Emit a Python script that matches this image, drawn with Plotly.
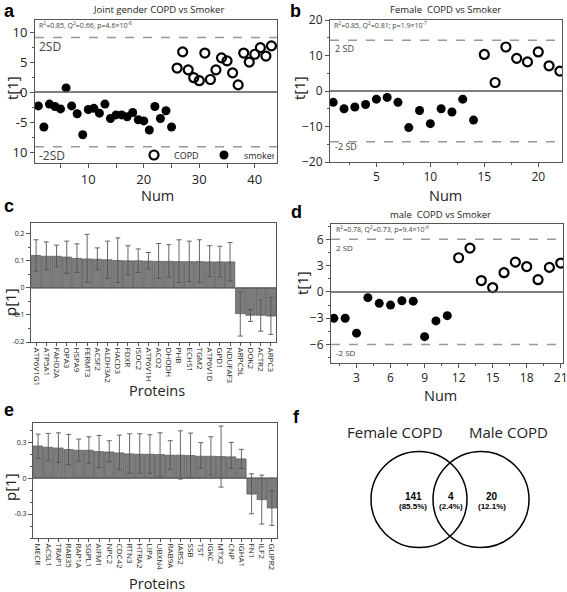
import plotly.graph_objects as go

W, H = 567, 592
def px(x): return x / W
def py(y): return 1 - y / H

FONT = "Open Sans"
AX = "#555555"

# ---------------- data ----------------
# Panel a: joint gender
a_smoker_num = list(range(1, 26))
a_smoker_t = [-2.3, -5.8, -2.0, -2.4, -2.8, 0.7, -2.3, -3.6, -7.1, -2.9, -2.7, -3.5, -2.0,
              -4.4, -3.8, -3.8, -4.1, -3.4, -4.6, -4.8, -6.3, -2.4, -4.4, -3.1, -5.8]
a_copd_num = list(range(26, 44))
a_copd_t = [4.0, 6.7, 3.7, 2.4, 1.9, 6.5, 2.1, 3.7, 5.7, 5.2, 3.2, 1.2, 6.5, 5.0, 6.3, 7.4, 6.0, 7.7]
a_sd = 9.1

# Panel b: female
b_smoker_num = list(range(1, 15))
b_smoker_t = [-3.2, -5.0, -4.5, -3.8, -2.3, -1.8, -3.2, -10.3, -5.5, -9.2, -5.0, -5.9, -2.3, -8.2]
b_copd_num = list(range(15, 23))
b_copd_t = [10.3, 2.4, 12.4, 9.2, 8.2, 11.0, 7.1, 5.6]
b_sd = 14.3

# Panel d: male
d_smoker_num = list(range(1, 12))
d_smoker_t = [-3.0, -3.0, -4.7, -0.65, -1.3, -1.5, -1.0, -1.05, -5.1, -3.3, -2.7]
d_copd_num = list(range(12, 22))
d_copd_t = [3.9, 5.0, 1.3, 0.5, 2.2, 3.4, 2.9, 1.4, 2.8, 3.3]
d_sd = 6.0

# Panel c: proteins (female)
c_proteins = ["ATP6V1G1", "ATP5A1", "FAHD2A", "OPA3", "HSPA9", "FERMT3", "ACSF2", "ALDH3A2",
              "HACD3", "FDXR", "ISOC2", "ATP6V1H", "ACO2", "DHODH", "PHB", "ECHS1", "TGM2",
              "ATP6V1D", "GPD1", "NDUFAF3", "ARPC5L", "DOK2", "ACTR2", "ARPC3"]
c_p = [0.120, 0.117, 0.117, 0.114, 0.109, 0.107, 0.106, 0.104, 0.101, 0.100, 0.100, 0.099,
       0.098, 0.098, 0.097, 0.097, 0.097, 0.096, 0.096, 0.096, -0.095, -0.101, -0.101, -0.104]
c_hi = [0.178, 0.170, 0.158, 0.173, 0.163, 0.198, 0.148, 0.173, 0.185, 0.156, 0.144, 0.131,
        0.164, 0.160, 0.178, 0.173, 0.178, 0.156, 0.154, 0.168, -0.015, -0.080, -0.045, -0.035]
c_lo = [0.062, 0.067, 0.078, 0.054, 0.057, 0.021, 0.067, 0.036, 0.020, 0.048, 0.057, 0.069,
        0.035, 0.040, 0.020, 0.023, 0.021, 0.042, 0.041, 0.026, -0.178, -0.124, -0.160, -0.172]

# Panel e: proteins (male)
e_proteins = ["MECR", "ACSL1", "TRAP1", "RAB35", "RAP1A", "SGPL1", "AIFM1", "NPC2", "CDC42",
              "RTN3", "HTRA2", "LIPA", "UBXN4", "RAB9A", "IARS2", "SSB", "TST", "IGKC", "MTX2",
              "CNP", "IGHA1", "FN1", "ILF2", "GLIPR2"]
e_p = [0.268, 0.257, 0.251, 0.238, 0.232, 0.232, 0.221, 0.218, 0.210, 0.202, 0.199, 0.199,
       0.196, 0.191, 0.191, 0.188, 0.182, 0.182, 0.180, 0.177, 0.160, -0.133, -0.180, -0.249]
e_hi = [0.367, 0.373, 0.378, 0.365, 0.326, 0.345, 0.356, 0.312, 0.359, 0.370, 0.370, 0.362,
        0.378, 0.312, 0.395, 0.376, 0.296, 0.345, 0.434, 0.298, 0.240, 0.036, 0.025, -0.105]
e_lo = [0.166, 0.146, 0.130, 0.113, 0.141, 0.124, 0.088, 0.135, 0.069, 0.041, 0.041, 0.039,
        0.017, 0.075, -0.008, 0.003, 0.080, 0.025, -0.075, 0.080, 0.080, -0.298, -0.384, -0.395]

# Panel f: Venn
venn_labels = ["Female COPD", "Male COPD"]
venn_counts = ["141", "4", "20"]
venn_pcts = ["(85.5%)", "(2.4%)", "(12.1%)"]

# ---------------- figure ----------------
fig = go.Figure()

def scatter_pair(xa, ya, sx, sy, cx, cy, legend):
    fig.add_trace(go.Scatter(x=cx, y=cy, mode="markers", name="COPD", xaxis=xa, yaxis=ya,
                             marker=dict(symbol="circle-open", size=9, color="black",
                                         line=dict(width=2.2, color="black")),
                             showlegend=legend))
    fig.add_trace(go.Scatter(x=sx, y=sy, mode="markers", name="smoker", xaxis=xa, yaxis=ya,
                             marker=dict(symbol="circle", size=9, color="black"),
                             showlegend=legend))

scatter_pair("x", "y", a_smoker_num, a_smoker_t, a_copd_num, a_copd_t, True)
scatter_pair("x2", "y2", b_smoker_num, b_smoker_t, b_copd_num, b_copd_t, False)
scatter_pair("x4", "y4", d_smoker_num, d_smoker_t, d_copd_num, d_copd_t, False)

def bars(xa, ya, cats, vals, hi, lo):
    fig.add_trace(go.Bar(x=cats, y=vals, xaxis=xa, yaxis=ya, showlegend=False,
                         marker=dict(color="#7d7d7d", line=dict(color="#5a5a5a", width=0.8)),
                         error_y=dict(type="data", symmetric=False,
                                      array=[h - v for h, v in zip(hi, vals)],
                                      arrayminus=[v - l for v, l in zip(vals, lo)],
                                      color="#555555", thickness=0.9, width=2.5)))

bars("x3", "y3", c_proteins, c_p, c_hi, c_lo)
bars("x5", "y5", e_proteins, e_p, e_hi, e_lo)

def axis(dom, rng=None, **kw):
    d = dict(domain=dom, showline=True, mirror=True, linecolor=AX, linewidth=1,
             ticks="outside", ticklen=4, tickcolor=AX, showgrid=False, zeroline=False,
             automargin=False, ticklabeloverflow="allow",
             tickfont=dict(family=FONT, size=13, color="#222"))
    if rng is not None:
        d["range"] = rng
    d.update(kw)
    return d

fig.update_layout(
    width=W, height=H, margin=dict(l=0, r=0, t=0, b=0, autoexpand=False),
    paper_bgcolor="white", plot_bgcolor="white",
    font=dict(family=FONT, color="#222"),
    bargap=0.08,
    xaxis=axis([px(35), px(277)], [0.4, 44], anchor="y", tickvals=[10, 20, 30, 40],
               minor=dict(dtick=5, tick0=0, ticks="outside", ticklen=4, tickcolor=AX)),
    yaxis=axis([py(163), py(20)], [-11.8, 12], anchor="x", tickvals=[10, 5, 0, -5, -10],
               ticktext=["10", "5", "0", "-5", "10"],
               minor=dict(dtick=2.5, tick0=0, ticks="outside", ticklen=2, tickcolor=AX)),
    xaxis2=axis([px(330), px(562)], [0.7, 22.2], anchor="y2", tickvals=[5, 10, 15, 20],
                tickfont=dict(family=FONT, size=12, color="#222"),
                minor=dict(dtick=2.5, tick0=0, ticks="outside", ticklen=2, tickcolor=AX)),
    yaxis2=axis([py(162), py(20)], [-20, 20], anchor="x2", tickvals=[20, 10, 0, -10, -20],
                tickfont=dict(family=FONT, size=12, color="#222"),
                minor=dict(dtick=5, tick0=0, ticks="outside", ticklen=2, tickcolor=AX)),
    xaxis3=axis([px(31), px(276)], None, anchor="y3", tickangle=90, ticklen=3,
                tickfont=dict(family=FONT, size=8, color="#222")),
    yaxis3=axis([py(342), py(223)], [-0.2, 0.24], anchor="x3", tickvals=[0.2, 0.1, 0, -0.1, -0.2],
                ticktext=["0.2", "0.1", "0", "-0.1", "-0.2"],
                tickfont=dict(family=FONT, size=7, color="#222"),
                minor=dict(dtick=0.05, tick0=0, ticks="outside", ticklen=2, tickcolor=AX)),
    xaxis4=axis([px(331), px(563)], [0.75, 21.2], anchor="y4", tickvals=[3, 6, 9, 12, 15, 18, 21],
                tickfont=dict(family=FONT, size=12, color="#222"),
                minor=dict(dtick=1.5, tick0=0, ticks="outside", ticklen=2, tickcolor=AX)),
    yaxis4=axis([py(363), py(224)], [-8.1, 7.75], anchor="x4", tickvals=[6, 3, 0, -3, -6],
                tickfont=dict(family=FONT, size=12, color="#222"),
                minor=dict(dtick=1.5, tick0=0, ticks="outside", ticklen=2, tickcolor=AX)),
    xaxis5=axis([px(33), px(277)], None, anchor="y5", tickangle=90, ticklen=3,
                tickfont=dict(family=FONT, size=8, color="#222")),
    yaxis5=axis([py(538), py(423)], [-0.5, 0.46], anchor="x5", tickvals=[0.3, 0, -0.3],
                ticktext=["0.3", "0", "-0.3"],
                tickfont=dict(family=FONT, size=7, color="#222"),
                minor=dict(dtick=0.1, tick0=0, ticks="outside", ticklen=2, tickcolor=AX)),
    legend=dict(x=px(134), y=py(155), xanchor="left", yanchor="middle", orientation="h",
                font=dict(family=FONT, size=9, color="#222"), bgcolor="rgba(0,0,0,0)",
                itemwidth=30, tracegroupgap=0, entrywidth=25, entrywidthmode="pixels"),
)

shapes = []
# zero lines and 2SD lines
for xr, yr, sd in [("x", "y", a_sd), ("x2", "y2", b_sd), ("x4", "y4", d_sd)]:
    xd = xr + " domain"
    shapes.append(dict(type="line", xref=xd, yref=yr, x0=0, x1=1, y0=0, y1=0,
                       line=dict(color=AX, width=1.5)))
    for s in (sd, -sd):
        shapes.append(dict(type="line", xref=xd, yref=yr, x0=0, x1=1, y0=s, y1=s,
                           line=dict(color="#999", width=1.5, dash="dash")))
for xr, yr in [("x3", "y3"), ("x5", "y5")]:
    shapes.append(dict(type="line", xref=xr + " domain", yref=yr, x0=0, x1=1, y0=0, y1=0,
                       line=dict(color=AX, width=1)))
# Venn circles
for cx in (419, 481):
    shapes.append(dict(type="circle", xref="paper", yref="paper",
                       x0=px(cx - 48), x1=px(cx + 48), y0=py(499.5 + 48), y1=py(499.5 - 48),
                       line=dict(color="black", width=1.5)))
fig.update_layout(shapes=shapes)

ann = []
def A(text, x, y, size, family=FONT, color="#222", xanchor="center", **kw):
    d = dict(text=text, x=px(x), y=py(y), xref="paper", yref="paper", showarrow=False,
             xanchor=xanchor, yanchor="middle",
             font=dict(family=family, size=size, color=color))
    d.update(kw)
    ann.append(d)

# panel letters
for t, x, y in [("a", 9, 11), ("b", 295, 11), ("c", 9, 206), ("d", 296, 212), ("e", 9, 410), ("f", 296, 417)]:
    A("<b>%s</b>" % t, x, y, 18, family="Liberation Sans", color="black")
# titles
A("Joint gender COPD vs Smoker", 158, 10, 9.5)
A("Female  COPD vs Smoker", 445, 10, 9.5)
A("male  COPD vs Smoker", 440, 214, 9.5)
# stats
A("R<sup>2</sup>=0.85, Q<sup>2</sup>=0.66, p=4.6×10<sup>-8</sup>", 37, 25, 7, xanchor="left", color="#444")
A("R<sup>2</sup>=0.85, Q<sup>2</sup>=0.81; p=1.9×10<sup>-7</sup>", 332, 25, 7, xanchor="left", color="#444")
A("R<sup>2</sup>=0.78, Q<sup>2</sup>=0.73, p=9.4×10<sup>-6</sup>", 334, 229, 7, xanchor="left", color="#444")
# SD labels
A("2SD", 37, 46, 12, xanchor="left", color="#444")
A("-2SD", 37, 155, 12, xanchor="left", color="#444")
A("2 SD", 333, 48, 9, xanchor="left", color="#444")
A("-2 SD", 333, 147, 9, xanchor="left", color="#444")
A("2 SD", 334, 247, 8, xanchor="left", color="#444")
A("-2 SD", 334, 352, 8, xanchor="left", color="#444")
# axis titles
A("Num", 157, 195, 14.5)
A("Num", 445, 195, 14.5)
A("Num", 440, 395, 14.5)
A("Proteins", 157, 390, 14.5)
A("Proteins", 157, 583, 14.5)
A("t[1]", 12, 88, 15, textangle=-90)
A("t[1]", 299, 88, 15, textangle=-90)
A("t[1]", 302, 283, 15, textangle=-90)
A("p[1]", 10, 302, 15, textangle=-90)
A("p[1]", 10, 487, 15, textangle=-90)
# Venn labels
A(venn_labels[0], 395, 432, 15)
A(venn_labels[1], 508, 432, 15)
for cx, c, p in zip((413, 451, 492), venn_counts, venn_pcts):
    A("<b>%s</b>" % c, cx, 496, 10, family="Liberation Sans", color="black")
    A("<b>%s</b>" % p, cx, 506, 8, family="Liberation Sans", color="black")
fig.update_layout(annotations=ann)

fig.write_html("out.html", config={"displayModeBar": False},
               post_script="document.body.style.margin='0px';document.body.style.overflow='hidden';")
